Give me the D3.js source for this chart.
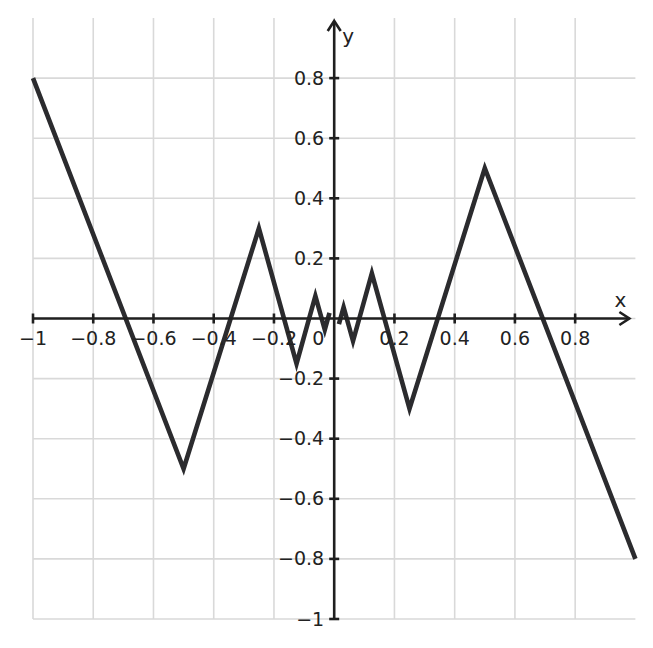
<!DOCTYPE html>
<html>
<head>
<meta charset="utf-8">
<script src="https://cdn.jsdelivr.net/npm/d3@7"></script>
<style>
  html, body { margin: 0; padding: 0; background: #fff; }
</style>
</head>
<body>
<div id="chart"></div>
<script>
// data: two pieces of the zigzag, split around x = 0
const leftX  = [-1, -0.5, -0.25, -0.125, -0.0625, -0.03125, -0.015625];
const leftY  = [0.8, -0.5, 0.3, -0.15, 0.075, -0.0375, 0.01875];
const rightX = [0.015625, 0.03125, 0.0625, 0.125, 0.25, 0.5, 1];
const rightY = [-0.01875, 0.0375, -0.075, 0.15, -0.3, 0.5, -0.8];

const xTicks = [-1, -0.8, -0.6, -0.4, -0.2, 0, 0.2, 0.4, 0.6, 0.8];
const yTicks = [0.8, 0.6, 0.4, 0.2, -0.2, -0.4, -0.6, -0.8, -1];
const gridX = [-1, -0.8, -0.6, -0.4, -0.2, 0, 0.2, 0.4, 0.6, 0.8];
const gridY = [0.8, 0.6, 0.4, 0.2, 0, -0.2, -0.4, -0.6, -0.8, -1];

const width = 653, height = 648;
const x = d3.scaleLinear().domain([-1, 1]).range([33, 635.4]);
const y = d3.scaleLinear().domain([-1, 1]).range([619, 18]);

const fmt = d => d3.format("")(d).replace("-", "\u2212");

const svg = d3.select("#chart").append("svg")
  .attr("width", width)
  .attr("height", height)
  .attr("font-family", "DejaVu Sans, sans-serif");

// grid
const grid = svg.append("g").attr("stroke", "#d9d9d9").attr("stroke-width", 1.6);
grid.selectAll("line.v").data(gridX).enter().append("line")
  .attr("x1", d => x(d)).attr("x2", d => x(d))
  .attr("y1", y(1)).attr("y2", y(-1));
grid.selectAll("line.h").data(gridY).enter().append("line")
  .attr("y1", d => y(d)).attr("y2", d => y(d))
  .attr("x1", x(-1)).attr("x2", x(1));

// the curve
const line = d3.line().x(d => x(d[0])).y(d => y(d[1]));
const pieces = [d3.zip(leftX, leftY), d3.zip(rightX, rightY)];
svg.append("g").selectAll("path").data(pieces).enter().append("path")
  .attr("d", line)
  .attr("fill", "none")
  .attr("stroke", "#2b2b2e")
  .attr("stroke-width", 4.6)
  .attr("stroke-linejoin", "miter");

// axes
const axisCol = "#1f1f1f";
const ax = svg.append("g").attr("stroke", axisCol).attr("stroke-width", 2.6).attr("fill", "none");
ax.append("line").attr("x1", x(-1)).attr("x2", x(0.98)).attr("y1", y(0)).attr("y2", y(0));
ax.append("line").attr("x1", x(0)).attr("x2", x(0)).attr("y1", y(-1)).attr("y2", y(0.99));
// arrow heads
ax.append("path")
  .attr("d", `M${x(0.98) - 10},${y(0) - 6.5} L${x(0.98)},${y(0)} L${x(0.98) - 10},${y(0) + 6.5}`);
ax.append("path")
  .attr("d", `M${x(0) - 6.5},${y(0.99) + 10} L${x(0)},${y(0.99)} L${x(0) + 6.5},${y(0.99) + 10}`);

// x ticks
ax.selectAll("line.xt").data(xTicks.filter(d => d !== 0)).enter().append("line")
  .attr("x1", d => x(d)).attr("x2", d => x(d))
  .attr("y1", y(0) - 5).attr("y2", y(0) + 5);
// y ticks
ax.selectAll("line.yt").data(yTicks).enter().append("line")
  .attr("y1", d => y(d)).attr("y2", d => y(d))
  .attr("x1", x(0) - 5).attr("x2", x(0) + 5);

const labels = svg.append("g").attr("fill", "#222").attr("font-size", 19);
labels.selectAll("text.xl").data(xTicks).enter().append("text")
  .attr("x", d => d === 0 ? x(0) - 16 : x(d))
  .attr("y", y(0) + 26)
  .attr("text-anchor", "middle")
  .text(fmt);
labels.selectAll("text.yl").data(yTicks).enter().append("text")
  .attr("x", x(0) - 10)
  .attr("y", d => y(d) + 6.5)
  .attr("text-anchor", "end")
  .text(fmt);

labels.append("text").attr("x", x(0.95)).attr("y", y(0) - 12)
  .attr("text-anchor", "middle").attr("font-size", 20).text("x");
labels.append("text").attr("x", x(0) + 8).attr("y", y(0) - 276)
  .attr("font-size", 20).text("y");
</script>
</body>
</html>
